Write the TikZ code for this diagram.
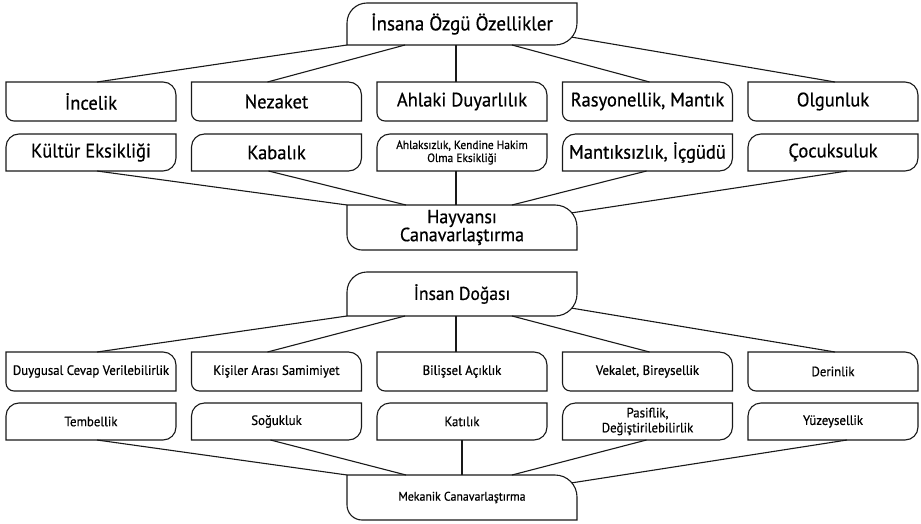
\documentclass[tikz,border=0pt]{standalone}
\usepackage{fontspec}
\setmainfont{PT Sans}[FakeStretch=0.95,FakeBold=0.6]
\usetikzlibrary{calc}
\tikzset{
  base/.style={rectangle, inner sep=0pt, outer sep=0pt, align=center, text=black},
  rootbox/.style={base, minimum width=230pt},
  boxA/.style={base, minimum width=170pt, minimum height=39pt},
  boxB/.style={base, minimum width=170pt, minimum height=37pt},
  fbig/.style={font=\fontsize{20}{20}\selectfont},
  fmid/.style={font=\fontsize{19.5}{19.5}\selectfont},
  fsmall/.style={font=\fontsize{13.5}{15}\selectfont},
  ftiny/.style={font=\fontsize{12}{13}\selectfont},
  boxline/.style={draw=black!90, line width=1.1pt},
  conn/.style={draw=black!90, line width=1.1pt},
}
% A: NW sharp, NE round, SE sharp, SW round
\newcommand\frameA[3]{\draw[boxline] (#1.north west) -- ([xshift=-#2]#1.north east) arc[start angle=90,end angle=0,radius=#2] -- (#1.south east) -- ([xshift=#3]#1.south west) arc[start angle=270,end angle=180,radius=#3] -- cycle;}
% B: NW round, NE sharp, SE round, SW sharp
\newcommand\frameB[3]{\draw[boxline] ([yshift=-#2]#1.north west) arc[start angle=180,end angle=90,radius=#2] -- (#1.north east) -- ([yshift=#3]#1.south east) arc[start angle=0,end angle=-90,radius=#3] -- (#1.south west) -- cycle;}
\begin{document}
\begin{tikzpicture}[x=1pt,y=-1pt]
\useasboundingbox (0,0) rectangle (921,524);
% ---------- section 1 ----------
\node[rootbox, minimum height=42pt, fbig] (r1) at (462,24) {İnsana Özgü Özellikler};
\frameB{r1}{20pt}{22pt}
\node[boxA, fmid] (a1) at (91,101.5) {İncelik};
\node[boxA, fmid] (a2) at (276.5,101.5) {Nezaket};
\node[boxA, fmid] (a3) at (462,101.5) {Ahlaki Duyarlılık};
\node[boxA, fmid] (a4) at (647.5,101.5) {Rasyonellik, Mantık};
\node[boxA, fmid] (a5) at (833,101.5) {Olgunluk};
\foreach \n in {a1,a2,a3,a4,a5} {\frameA{\n}{13pt}{8pt}}
\node[boxB, fmid] (b1) at (91,152.5) {Kültür Eksikliği};
\node[boxB, fmid] (b2) at (276.5,152.5) {Kabalık};
\node[boxB, ftiny] (b3) at (462,152.5) {Ahlaksızlık, Kendine Hakim\\Olma Eksikliği};
\node[boxB, fmid] (b4) at (647.5,152.5) {Mantıksızlık, İçgüdü};
\node[boxB, fmid] (b5) at (833,152.5) {Çocuksuluk};
\foreach \n in {b1,b2,b3,b4,b5} {\frameB{\n}{13pt}{13pt}}
\node[rootbox, minimum height=45pt, font=\fontsize{19}{18}\selectfont] (h1) at (462,227.5) {Hayvansı\\Canavarlaştırma};
\frameA{h1}{22pt}{15pt}
\coordinate (r1e) at ($(r1.south east)+(-22pt,22pt)+(-40:22pt)$);
\coordinate (h1e) at ($(h1.north east)+(-22pt,-22pt)+(40:22pt)$);
\draw[conn] (r1.south west) -- ([xshift=6pt]a1.north);
\draw[conn] ([xshift=-57pt]r1.south) -- ([xshift=-9pt]a2.north);
\draw[conn] ([xshift=-6pt]r1.south) -- ([xshift=-6pt]a3.north);
\draw[conn] ([xshift=50pt]r1.south) -- ([xshift=2pt]a4.north);
\draw[conn] (r1e) -- ([xshift=2pt]a5.north);
\draw[conn] ([xshift=6pt]b1.south) -- (h1.north west);
\draw[conn] ([xshift=-8pt]b2.south) -- ([xshift=-56pt]h1.north);
\draw[conn] ([xshift=-6pt]b3.south) -- ([xshift=-6pt]h1.north);
\draw[conn] ([xshift=-1pt]b4.south) -- ([xshift=50pt]h1.north);
\draw[conn] ([xshift=14pt]b5.south) -- (h1e);
% ---------- section 2 ----------
\node[rootbox, minimum height=44pt, font=\fontsize{18.5}{18.5}\selectfont] (r2) at (462,294) {İnsan Doğası};
\frameB{r2}{20pt}{22pt}
\node[boxA, fsmall] (c1) at (91,371.5) {Duygusal Cevap Verilebilirlik};
\node[boxA, fsmall] (c2) at (276.5,371.5) {Kişiler Arası Samimiyet};
\node[boxA, fsmall] (c3) at (462,371.5) {Bilişsel Açıklık};
\node[boxA, fsmall] (c4) at (647.5,371.5) {Vekalet, Bireysellik};
\node[boxA, fsmall] (c5) at (833,371.5) {Derinlik};
\foreach \n in {c1,c2,c3,c4,c5} {\frameA{\n}{13pt}{8pt}}
\node[boxB, fsmall] (d1) at (91,421.5) {Tembellik};
\node[boxB, fsmall] (d2) at (276.5,421.5) {Soğukluk};
\node[boxB, fsmall] (d3) at (462,421.5) {Katılık};
\node[boxB, fsmall] (d4) at (647.5,421.5) {Pasiflik,\\Değiştirilebilirlik};
\node[boxB, fsmall] (d5) at (833,421.5) {Yüzeysellik};
\foreach \n in {d1,d2,d3,d4,d5} {\frameB{\n}{13pt}{13pt}}
\node[rootbox, minimum height=45pt, font=\fontsize{12.5}{13}\selectfont] (m2) at (462,497.5) {Mekanik Canavarlaştırma};
\frameA{m2}{22pt}{15pt}
\coordinate (r2e) at ($(r2.south east)+(-22pt,22pt)+(-40:22pt)$);
\coordinate (m2e) at ($(m2.north east)+(-22pt,-22pt)+(40:22pt)$);
\draw[conn] (r2.south west) -- ([xshift=6pt]c1.north);
\draw[conn] ([xshift=-57pt]r2.south) -- ([xshift=-9pt]c2.north);
\draw[conn] ([xshift=-6pt]r2.south) -- ([xshift=-6pt]c3.north);
\draw[conn] ([xshift=50pt]r2.south) -- ([xshift=2pt]c4.north);
\draw[conn] (r2e) -- ([xshift=2pt]c5.north);
\draw[conn] ([xshift=6pt]d1.south) -- (m2.north west);
\draw[conn] ([xshift=-6pt]d2.south) -- ([xshift=-56pt]m2.north);
\draw[conn] (d3.south) -- (m2.north);
\draw[conn] ([xshift=-1pt]d4.south) -- ([xshift=50pt]m2.north);
\draw[conn] ([xshift=14pt]d5.south) -- (m2e);
\end{tikzpicture}
\end{document}
